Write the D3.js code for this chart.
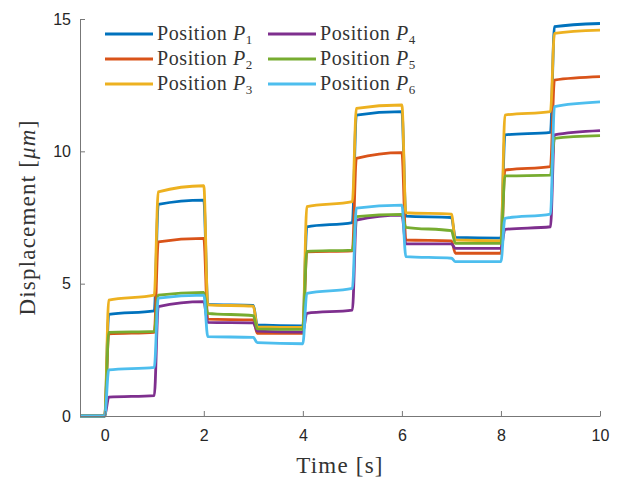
<!DOCTYPE html>
<html><head><meta charset="utf-8">
<script src="https://cdn.jsdelivr.net/npm/d3@7"></script>
<style>body{margin:0;background:#fff}svg{display:block}</style>
</head><body>
<svg id="c" width="621" height="482"></svg>
<script>
// ---- data ----
const seriesNames = ["1","2","3","4","5","6"];
const seriesColors = ["#0072BD","#D95319","#EDB120","#7E2F8E","#77AC30","#4DBEEE"];
const stepTimes = [0,1,2,3,4,5,6,7,8,9];
// level just after each step, and level at the end of each 1 s interval
const p1Start = [3.84, 8.00, 4.22, 3.44, 7.15, 11.37, 7.55, 6.75, 10.62, 14.71];
const p1End   = [3.97, 8.16, 4.18, 3.40, 7.31, 11.50, 7.50, 6.72, 10.72, 14.83];
const p2Start = [3.10, 6.58, 3.66, 3.12, 6.20, 9.73, 6.65, 6.15, 9.29, 12.69];
const p2End   = [3.16, 6.71, 3.63, 3.12, 6.24, 9.95, 6.62, 6.15, 9.42, 12.82];
const p3Start = [4.38, 8.47, 4.20, 3.37, 7.91, 11.62, 7.68, 6.65, 11.37, 14.46];
const p3End   = [4.57, 8.70, 4.15, 3.35, 8.10, 11.75, 7.63, 6.62, 11.50, 14.58];
const p4Start = [0.71, 4.13, 3.54, 3.21, 3.88, 7.40, 6.50, 6.33, 7.05, 10.62];
const p4End   = [0.77, 4.32, 3.52, 3.17, 4.00, 7.59, 6.50, 6.33, 7.15, 10.78];
const p5Start = [3.16, 4.57, 3.88, 3.29, 6.22, 7.53, 7.13, 6.52, 9.07, 10.49];
const p5End   = [3.20, 4.67, 3.79, 3.27, 6.27, 7.62, 7.00, 6.52, 9.10, 10.59];
const p6Start = [1.74, 4.45, 3.00, 2.77, 4.63, 7.85, 6.02, 5.83, 7.47, 11.69];
const p6End   = [1.84, 4.57, 2.97, 2.73, 4.82, 7.97, 5.96, 5.83, 7.63, 11.87];
const xTicks = [0,2,4,6,8,10];
const yTicks = [0,5,10,15];
const startTime = -0.5, initialLevel = 0;

const starts = [p1Start,p2Start,p3Start,p4Start,p5Start,p6Start];
const ends   = [p1End,p2End,p3End,p4End,p5End,p6End];

// ---- layout ----
const svg = d3.select("#c");
const L = 80, R = 600, T = 19, B = 416;
const x = d3.scaleLinear().domain([-0.5, 10]).range([L, R]);
const y = d3.scaleLinear().domain([0, 15]).range([B, T]);
const riseDur = 0.08;

function buildPoints(si){
  const pts = [[startTime, initialLevel]];
  let prev = initialLevel;
  stepTimes.forEach((t,i)=>{
    pts.push([t, prev]);
    pts.push([t + riseDur, starts[si][i]]);
    pts.push([t + 1, ends[si][i]]);
    prev = ends[si][i];
  });
  return pts;
}

const line = d3.line().x(d=>x(d[0])).y(d=>y(d[1])).curve(d3.curveMonotoneX);

const g = svg.append("g");
seriesNames.forEach((n,si)=>{
  g.append("path").datum(buildPoints(si))
    .attr("d", line).attr("fill","none")
    .attr("stroke", seriesColors[si]).attr("stroke-width", 2.8)
    .attr("stroke-linejoin","round");
});

// axes
const axCol = "#262626";
const xAxis = svg.append("g").attr("transform",`translate(0,${B})`)
  .call(d3.axisBottom(x).tickValues(xTicks).tickSizeInner(-5).tickSizeOuter(0).tickPadding(14));
const yAxis = svg.append("g").attr("transform",`translate(${L},0)`)
  .call(d3.axisLeft(y).tickValues(yTicks).tickSizeInner(-5).tickSizeOuter(0).tickPadding(9));
[xAxis,yAxis].forEach(a=>{
  a.select(".domain").attr("stroke","#777").attr("stroke-width",1);
  a.selectAll(".tick line").attr("stroke","#777");
  a.selectAll("text").attr("fill",axCol).attr("font-family","Liberation Sans, Arial, sans-serif").attr("font-size",16);
});

// axis labels
const serif = "Liberation Serif, Times New Roman, serif";
svg.append("text").attr("x", x(4.75)).attr("y", 473).attr("text-anchor","middle")
  .attr("font-family", serif).attr("font-size", 23).attr("letter-spacing", 1.2)
  .attr("fill", "#333").text("Time [s]");
const yl = svg.append("text").attr("transform",`translate(35,${y(7.5)}) rotate(-90)`)
  .attr("text-anchor","middle").attr("font-family", serif).attr("font-size", 23)
  .attr("letter-spacing", 1.2).attr("fill", "#333");
yl.append("tspan").text("Displacement [");
yl.append("tspan").attr("font-style","italic").text("μm");
yl.append("tspan").text("]");

// legend
const legCols = [{lx:105, tx:157}, {lx:268, tx:320}];
const legRows = [34, 59, 84];
seriesNames.forEach((n,si)=>{
  const c = legCols[Math.floor(si/3)], ry = legRows[si%3];
  svg.append("line").attr("x1",c.lx).attr("x2",c.lx+48).attr("y1",ry).attr("y2",ry)
    .attr("stroke",seriesColors[si]).attr("stroke-width",2.8);
  const t = svg.append("text").attr("x",c.tx).attr("y",ry+6)
    .attr("font-family",serif).attr("font-size",20).attr("letter-spacing",0.6).attr("fill","#333");
  t.append("tspan").text("Position ");
  t.append("tspan").attr("font-style","italic").text("P");
  t.append("tspan").attr("font-size",13).attr("dy",4).attr("fill","#333").text(n);
});
</script>
</body></html>
